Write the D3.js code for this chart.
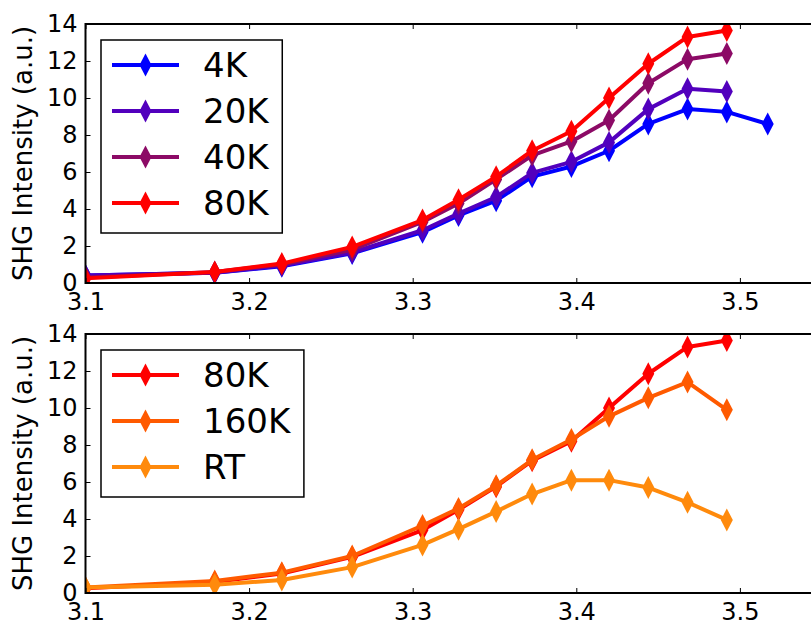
<!DOCTYPE html>
<html>
<head>
<meta charset="utf-8">
<script src="https://cdn.jsdelivr.net/npm/d3@7"></script>
<style>
    body { margin: 0; background: #fff; }
    svg { display: block; font-family: "DejaVu Sans", sans-serif; }
</style>
</head>
<body>
<svg id="chart"></svg>
<script>
const width = 811;
const height = 624;

// Photon energy (eV) of each measured point
const energy = [3.100, 3.179, 3.220, 3.263, 3.306, 3.328, 3.351, 3.373, 3.397, 3.420, 3.444, 3.468, 3.492, 3.517];

// SHG intensity per temperature
const shg4K   = [0.40, 0.55, 0.90, 1.60, 2.75, 3.65, 4.45, 5.75, 6.30, 7.15, 8.60, 9.40, 9.25, 8.60];
const shg20K  = [0.40, 0.55, 0.95, 1.65, 2.85, 3.75, 4.65, 5.95, 6.55, 7.60, 9.40, 10.50, 10.35];
const shg40K  = [0.30, 0.60, 1.00, 1.80, 3.30, 4.30, 5.60, 6.90, 7.65, 8.80, 10.80, 12.10, 12.40];
const shg80K  = [0.25, 0.60, 1.05, 1.95, 3.40, 4.50, 5.75, 7.15, 8.20, 10.00, 11.85, 13.30, 13.65];
const shg160K = [0.30, 0.65, 1.10, 2.00, 3.65, 4.57, 5.80, 7.20, 8.30, 9.55, 10.55, 11.40, 9.90];
const shgRT   = [0.30, 0.45, 0.70, 1.40, 2.60, 3.45, 4.40, 5.35, 6.10, 6.10, 5.70, 4.90, 3.95];

const xTicks = [3.1, 3.2, 3.3, 3.4, 3.5];
const yTicks = [0, 2, 4, 6, 8, 10, 12, 14];

const topSeries = [
    { name: "4K",  values: shg4K,  color: "#0000ff" },
    { name: "20K", values: shg20K, color: "#5200bd" },
    { name: "40K", values: shg40K, color: "#8c0a66" },
    { name: "80K", values: shg80K, color: "#ff0000" }
];
const bottomSeries = [
    { name: "80K",  values: shg80K,  color: "#ff0000" },
    { name: "160K", values: shg160K, color: "#ff5a00" },
    { name: "RT",   values: shgRT,   color: "#ff8a0c" }
];

const svg = d3.select("#chart")
    .attr("width", width)
    .attr("height", height);

// Axes run past the right edge of the picture, as in the original crop
const x = d3.scaleLinear()
    .domain([3.1, 3.6])
    .range([85.5, 903.5]);

const diamond = "M0,-11.5L6,0L0,11.5L-6,0Z";

drawPanel(topSeries, 24, 283, 40, "clipTop");
drawPanel(bottomSeries, 334, 593, 350, "clipBottom");

function drawPanel(series, top, bottom, legendTop, clipId) {
    const y = d3.scaleLinear()
        .domain([0, 14])
        .range([bottom, top]);

    const g = svg.append("g");

    g.append("clipPath")
        .attr("id", clipId)
        .append("rect")
        .attr("x", x.range()[0])
        .attr("y", top)
        .attr("width", x.range()[1] - x.range()[0])
        .attr("height", bottom - top);

    // Data
    const plot = g.append("g").attr("clip-path", `url(#${clipId})`);
    const line = d3.line()
        .x((d, i) => x(energy[i]))
        .y(d => y(d));

    series.forEach(s => {
        const sg = plot.append("g");
        sg.append("path")
            .datum(s.values)
            .attr("d", line)
            .attr("fill", "none")
            .attr("stroke", s.color)
            .attr("stroke-width", 4)
            .attr("stroke-linejoin", "round");
        sg.selectAll("path.pt")
            .data(s.values)
            .enter().append("path")
            .attr("class", "pt")
            .attr("d", diamond)
            .attr("transform", (d, i) => `translate(${x(energy[i])},${y(d)})`)
            .attr("fill", s.color);
    });

    // Axes with inward ticks
    g.append("g")
        .attr("transform", `translate(0,${bottom})`)
        .call(d3.axisBottom(x).tickValues(xTicks).tickFormat(d3.format(".1f"))
            .tickSizeInner(-5).tickSizeOuter(0).tickPadding(10));
    g.append("g")
        .attr("transform", `translate(0,${top})`)
        .call(d3.axisTop(x).tickValues(xTicks).tickFormat("")
            .tickSizeInner(-5).tickSizeOuter(0));
    g.append("g")
        .attr("transform", `translate(${x.range()[0]},0)`)
        .call(d3.axisLeft(y).tickValues(yTicks)
            .tickSizeInner(-5).tickSizeOuter(0).tickPadding(8));

    g.selectAll(".domain").remove();
    g.selectAll(".tick line").attr("stroke", "#000").attr("stroke-width", 1);
    g.selectAll(".tick text")
        .attr("fill", "#000")
        .style("font-size", "24px")
        .style("font-family", "'DejaVu Sans', sans-serif");

    // Frame
    g.append("rect")
        .attr("x", x.range()[0])
        .attr("y", top)
        .attr("width", x.range()[1] - x.range()[0])
        .attr("height", bottom - top)
        .attr("fill", "none")
        .attr("stroke", "#000")
        .attr("stroke-width", 2);

    // Y label
    g.append("text")
        .attr("transform", `translate(32,${(top + bottom) / 2}) rotate(-90)`)
        .attr("text-anchor", "middle")
        .style("font-size", "26px")
        .text("SHG Intensity (a.u.)");

    // Legend
    const legend = g.append("g");
    const rowStep = 46;
    const box = legend.append("rect")
        .attr("fill", "#fff")
        .attr("stroke", "#000")
        .attr("stroke-width", 1.5);

    let textRight = 0;
    series.forEach((s, i) => {
        const cy = legendTop + 25 + i * rowStep;
        legend.append("line")
            .attr("x1", 112).attr("x2", 179)
            .attr("y1", cy).attr("y2", cy)
            .attr("stroke", s.color)
            .attr("stroke-width", 4);
        legend.append("path")
            .attr("d", diamond)
            .attr("transform", `translate(145.5,${cy})`)
            .attr("fill", s.color);
        const t = legend.append("text")
            .attr("x", 203)
            .attr("y", cy + 12)
            .style("font-size", "34px")
            .text(s.name);
        const bb = t.node().getBBox();
        textRight = Math.max(textRight, bb.x + bb.width);
    });

    box.attr("x", 101)
        .attr("y", legendTop)
        .attr("width", textRight + 12 - 101)
        .attr("height", 25 + (series.length - 1) * rowStep + 30);
}
</script>
</body>
</html>
